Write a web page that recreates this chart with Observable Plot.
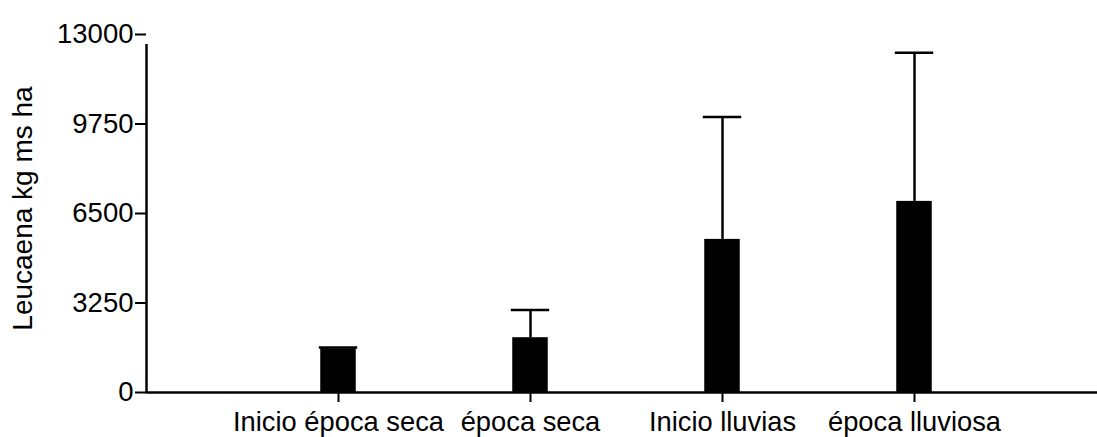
<!DOCTYPE html>
<html>
<head>
<meta charset="utf-8">
<script src="https://cdn.jsdelivr.net/npm/d3@7"></script>
<script src="https://cdn.jsdelivr.net/npm/@observablehq/plot@0.6"></script>
<style>
  html, body { margin: 0; padding: 0; background: #fff; }
  #chart svg { font-family: "Liberation Sans", Arial, sans-serif; display: block; }
</style>
</head>
<body>
<div id="chart"></div>
<script>
const categories = ["Inicio época seca", "época seca", "Inicio lluvias", "época lluviosa"];
const means = [1590, 1990, 5560, 6940];
const errors = [40, 1010, 4440, 5400];
const yTicks = [0, 3250, 6500, 9750, 13000];
const yLabel = "Leucaena kg ms ha";

const data = categories.map((c, k) => ({pos: k + 1, cat: c, mean: means[k], top: means[k] + errors[k]}));
const barW = 0.185;
const capW = 0.2;

const chart = Plot.plot({
  width: 1097,
  height: 437,
  marginLeft: 146,
  marginRight: 0,
  marginTop: 34,
  marginBottom: 45,
  style: {fontFamily: '"Liberation Sans", Arial, sans-serif', color: "#000", background: "#fff"},
  x: {type: "linear", domain: [0, 951 / 192]},
  y: {domain: [0, 13000]},
  marks: [
    Plot.rectY(data, {x1: d => d.pos - barW / 2, x2: d => d.pos + barW / 2, y1: 0, y2: "mean", fill: "#000"}),
    Plot.ruleX(data, {x: "pos", y1: "mean", y2: "top", stroke: "#000", strokeWidth: 2.5}),
    Plot.ruleY(data, {y: "top", x1: d => d.pos - capW / 2, x2: d => d.pos + capW / 2, stroke: "#000", strokeWidth: 2.5}),
    Plot.ruleY([0], {stroke: "#000", strokeWidth: 2.5}),
    Plot.ruleX([0], {y1: 0, y2: 13000, insetBottom: -10, stroke: "#000", strokeWidth: 2.5}),
    Plot.axisY({ticks: yTicks, tickFormat: d3.format("d"), tickSize: 11, tickPadding: 2, fontSize: 27.5, strokeWidth: 2, label: null}),
    Plot.axisX({ticks: [1, 2, 3, 4], tickFormat: i => categories[i - 1], tickSize: 10, tickPadding: 9, fontSize: 27.3, strokeWidth: 2, label: null}),
    Plot.text([yLabel], {frameAnchor: "left", dx: -123, dy: -5, rotate: -90, fontSize: 28, textAnchor: "middle", fill: "#000"})
  ]
});
document.getElementById("chart").appendChild(chart);
</script>
</body>
</html>
